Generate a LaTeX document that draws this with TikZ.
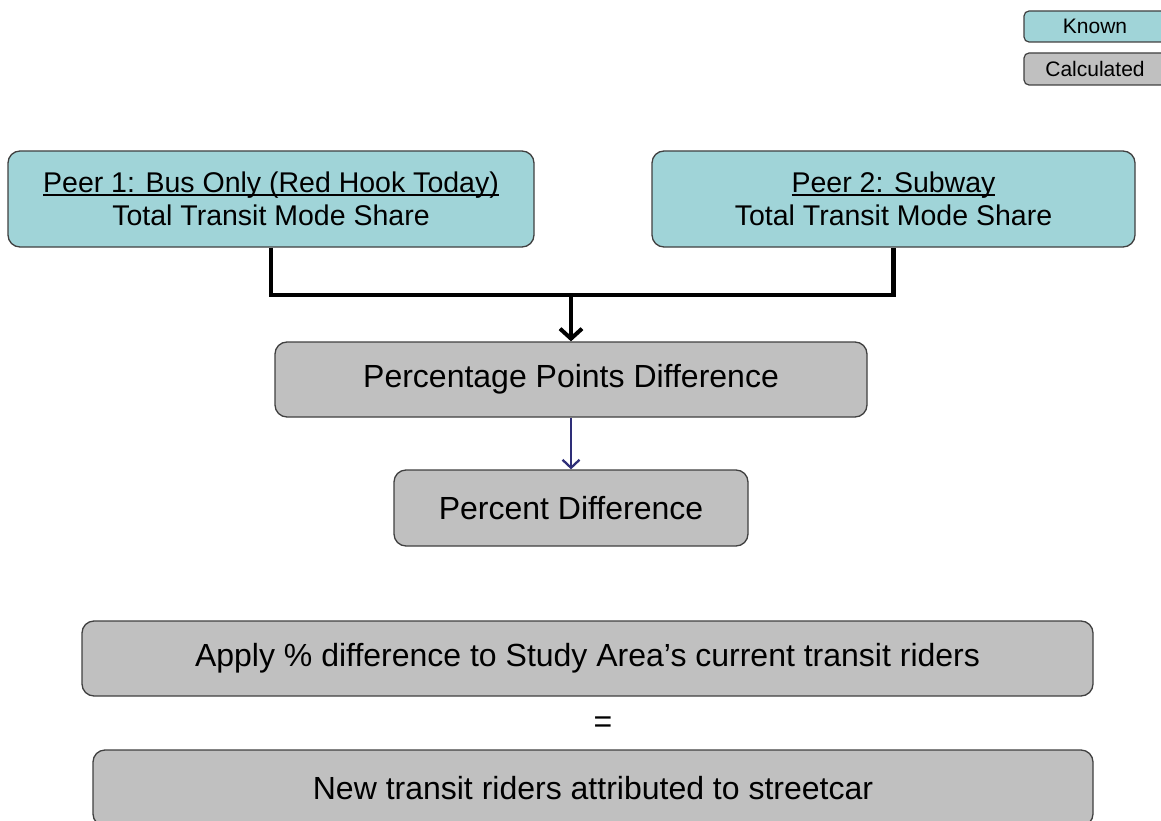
\documentclass[tikz,border=0pt]{standalone}
\usepackage{fontspec}
\setmainfont{Liberation Sans}
\usetikzlibrary{arrows.meta}
\definecolor{known}{HTML}{A0D4D8}
\definecolor{calc}{HTML}{C0C0C0}
\definecolor{edge}{HTML}{404040}
\definecolor{navy}{HTML}{2E2E78}
\newcommand{\myul}[1]{\leavevmode\setbox0\hbox{#1}\rlap{\rule[-3pt]{\wd0}{1.3pt}}\box0}
\begin{document}
\begin{tikzpicture}[x=1pt,y=-1pt,
  box/.style={draw=edge,line width=1.3pt,rounded corners=12pt,inner sep=0pt,align=center},
  knownbox/.style={box,fill=known},
  calcbox/.style={box,fill=calc},
  legendbox/.style={draw=edge,line width=1.2pt,rounded corners=5pt,inner sep=0pt,font=\fontsize{21}{24}\selectfont},
  big/.style={font=\fontsize{32}{38}\selectfont},
  mid/.style={font=\fontsize{28.5}{33}\selectfont}
]
\useasboundingbox (0,0) rectangle (1161,821);
\node[legendbox,fill=known,minimum width=142pt,minimum height=31pt] (lk) at (1095,26.5) {Known};
\node[legendbox,fill=calc,minimum width=142pt,minimum height=32pt] (lc) at (1095,69) {Calculated};
\node[knownbox,minimum width=526pt,minimum height=96pt,mid] (p1) at (271,199)
  {\myul{Peer 1: Bus Only (Red Hook Today)}\\Total Transit Mode Share};
\node[knownbox,minimum width=483pt,minimum height=96pt,mid] (p2) at (893.5,199)
  {\myul{Peer 2: Subway}\\Total Transit Mode Share};
\node[calcbox,minimum width=592pt,minimum height=75pt,big] (ppd) at (571,379.5) {\raisebox{-3pt}{Percentage Points Difference}};
\node[calcbox,minimum width=354pt,minimum height=76pt,big] (pd) at (571,508) {\raisebox{-2pt}{Percent Difference}};
\node[calcbox,minimum width=1011pt,minimum height=75pt,big] (ap) at (587.5,658.5) {\raisebox{-3pt}{Apply \% difference to Study Area’s current transit riders}};
\node[big] (eq) at (603,725) {=};
\node[calcbox,minimum width=1000pt,minimum height=76pt,big] (nw) at (593,788) {\raisebox{-1pt}{New transit riders attributed to streetcar}};
\coordinate (j) at (571,295);
\draw[line width=4.5pt] (p1.south) |- (j) -| (p2.south);
\draw[line width=4pt,-{Straight Barb[length=10pt,width=22pt,line width=4pt]}] (j) -- (ppd.north);
\draw[navy,line width=2.3pt,-{Straight Barb[length=8pt,width=17pt,line width=2.3pt]}] (ppd.south) -- (pd.north);
\end{tikzpicture}
\end{document}
